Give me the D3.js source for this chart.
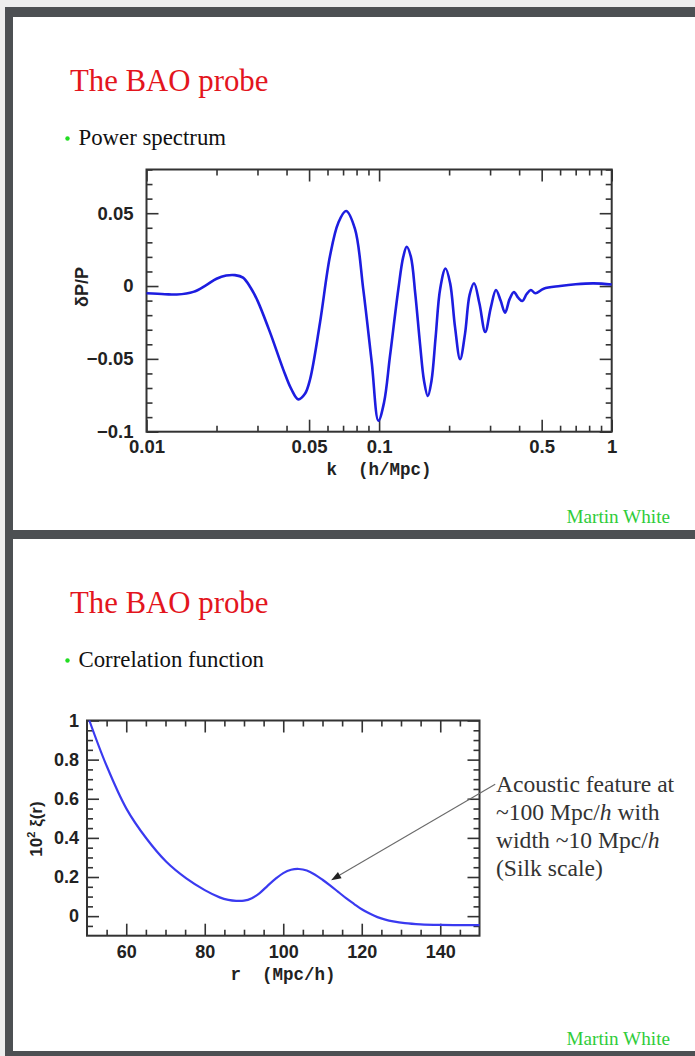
<!DOCTYPE html>
<html>
<head>
<meta charset="utf-8">
<script src="https://cdn.jsdelivr.net/npm/d3@7"></script>
<style>
  html, body { margin: 0; padding: 0; background: #eeeeee; }
  svg { display: block; }
</style>
</head>
<body>
<script>
// ---------- DATA ----------
// Power spectrum: k (h/Mpc) and deltaP/P
const kValues = [0.0100, 0.0120, 0.0135, 0.0159, 0.0180, 0.0200, 0.0220, 0.0240, 0.0260, 0.0280,
  0.0300, 0.0340, 0.0387, 0.0420, 0.0449, 0.0480, 0.0505, 0.0557, 0.0615, 0.0668,
  0.0721, 0.0788, 0.0855, 0.0930, 0.0993, 0.1050, 0.1114, 0.1210, 0.1270, 0.1315,
  0.1370, 0.1430, 0.1500, 0.1560, 0.1620, 0.1680, 0.1750, 0.1830, 0.1930, 0.2020,
  0.2120, 0.2230, 0.2340, 0.2450, 0.2560, 0.2700, 0.2860, 0.3020, 0.3180, 0.3330,
  0.3480, 0.3640, 0.3800, 0.3960, 0.4130, 0.4310, 0.4490, 0.4700, 0.5100, 0.6000,
  0.7000, 0.8340, 1.0000];
const dPoverP = [-0.0050, -0.0056, -0.0058, -0.0040, 0.0005, 0.0050, 0.0072, 0.0075, 0.0058, -0.0010,
  -0.0100, -0.0320, -0.0572, -0.0710, -0.0778, -0.0740, -0.0640, -0.0252, 0.0206, 0.0435,
  0.0515, 0.0390, -0.0023, -0.0526, -0.0925, -0.0800, -0.0480, -0.0020, 0.0200, 0.0270,
  0.0200, -0.0050, -0.0400, -0.0650, -0.0755, -0.0650, -0.0350, -0.0020, 0.0120, 0.0020,
  -0.0280, -0.0503, -0.0330, -0.0060, 0.0019, -0.0120, -0.0316, -0.0150, -0.0027, -0.0100,
  -0.0183, -0.0090, -0.0041, -0.0080, -0.0103, -0.0055, -0.0027, -0.0050, -0.0018, 0.0000,
  0.0012, 0.0018, 0.0010];

// Correlation function: r (Mpc/h) and 10^2 xi(r)
const rValues = [50.6, 54.9, 60, 65.1, 70.2, 75.3, 80, 83.8, 86, 88,
  90, 92, 94, 96, 98, 100, 102, 104, 106, 108,
  110, 112, 114, 116, 118, 120, 122, 124, 126, 128,
  131, 135, 140, 145, 150];
const xiValues = [1.00, 0.773, 0.551, 0.398, 0.278, 0.193, 0.133, 0.096, 0.083, 0.078,
  0.079, 0.092, 0.118, 0.155, 0.190, 0.220, 0.237, 0.241, 0.233, 0.213,
  0.186, 0.156, 0.124, 0.092, 0.063, 0.035, 0.013, -0.005, -0.018, -0.027,
  -0.036, -0.042, -0.045, -0.046, -0.046];

// Ticks
const kMajorTicks = [0.01, 0.05, 0.1, 0.5, 1];
const kTickLabels = ["0.01", "0.05", "0.1", "0.5", "1"];
const kMinorTicks = [0.02, 0.03, 0.04, 0.06, 0.07, 0.08, 0.09, 0.2, 0.3, 0.4, 0.6, 0.7, 0.8, 0.9];
const pMajorTicks = [-0.1, -0.05, 0, 0.05];
const pTickLabels = ["\u22120.1", "\u22120.05", "0", "0.05"];
const pMinorTicks = [-0.09, -0.08, -0.07, -0.06, -0.04, -0.03, -0.02, -0.01, 0.01, 0.02, 0.03, 0.04, 0.06, 0.07, 0.08];

const rMajorTicks = [60, 80, 100, 120, 140];
const rTickLabels = ["60", "80", "100", "120", "140"];
const rMinorTicks = [55, 65, 70, 75, 85, 90, 95, 105, 110, 115, 125, 130, 135, 145];
const xiMajorTicks = [0, 0.2, 0.4, 0.6, 0.8, 1];
const xiTickLabels = ["0", "0.2", "0.4", "0.6", "0.8", "1"];
const xiMinorTicks = [-0.05, 0.05, 0.1, 0.15, 0.25, 0.3, 0.35, 0.45, 0.5, 0.55, 0.65, 0.7, 0.75, 0.85, 0.9, 0.95];

// Texts
const slideTitle = "The BAO probe";
const bullet1 = "Power spectrum";
const bullet2 = "Correlation function";
const author = "Martin White";
const annotationLines = ["Acoustic feature at", "~100 Mpc/|h| with", "width ~10 Mpc/|h|", "(Silk scale)"];

// ---------- DRAW ----------
const W = 695, H = 1056;
const svg = d3.select("body").append("svg").attr("width", W).attr("height", H);

const DARK = "#4d5053";
svg.append("rect").attr("x", 0).attr("y", 0).attr("width", W).attr("height", H).attr("fill", "#eeeeee");
svg.append("rect").attr("x", 5).attr("y", 7).attr("width", W - 5).attr("height", H - 7).attr("fill", DARK);
svg.append("rect").attr("x", 13).attr("y", 17).attr("width", W - 13).attr("height", 513).attr("fill", "#ffffff");
svg.append("rect").attr("x", 13).attr("y", 539).attr("width", W - 13).attr("height", 512).attr("fill", "#ffffff");

const SERIF = "'Liberation Serif', 'Times New Roman', serif";
const SANS = "'Liberation Sans', Arial, Helvetica, sans-serif";
const MONO = "'Liberation Mono', 'Courier New', monospace";

function slideText(offsetY, bulletText) {
  svg.append("text").attr("x", 70).attr("y", 91 + offsetY)
    .attr("font-family", SERIF).attr("font-size", 30.8).attr("fill", "#e3151d").text(slideTitle);
  svg.append("circle").attr("cx", 67.5).attr("cy", 138.5 + offsetY).attr("r", 2.2).attr("fill", "#22dd22");
  svg.append("text").attr("x", 78.5).attr("y", 144.5 + offsetY)
    .attr("font-family", SERIF).attr("font-size", 22.8).attr("fill", "#111").text(bulletText);
  svg.append("text").attr("x", 670).attr("y", 523 + offsetY).attr("text-anchor", "end")
    .attr("font-family", SERIF).attr("font-size", 19.2).attr("fill", "#2fcc3a").text(author);
}
slideText(0, bullet1);
slideText(522, bullet2);

function drawAxes(x, y, o) {
  const [x0, x1] = x.range();
  const [y0, y1] = y.range();
  const g = svg.append("g");
  const add = (axis, tr, vals, size, fmt, pad, font) => {
    const a = g.append("g").attr("transform", tr)
      .call(axis.tickValues(vals).tickSize(-size).tickPadding(pad).tickFormat(fmt));
    a.select(".domain").remove();
    a.selectAll(".tick line").attr("stroke", "#333").attr("stroke-width", 1.6);
    a.selectAll(".tick text").attr("font-family", SANS).attr("font-weight", "bold")
      .attr("font-size", font).attr("fill", "#222");
    return a;
  };
  const none = () => "";
  add(d3.axisBottom(x), `translate(0,${y0})`, o.xMajor, 12, (d, i) => o.xLabels[i], o.xPad, o.font);
  add(d3.axisBottom(x), `translate(0,${y0})`, o.xMinor, 6, none, 0, o.font);
  add(d3.axisTop(x), `translate(0,${y1})`, o.xMajor, 12, none, 0, o.font);
  add(d3.axisTop(x), `translate(0,${y1})`, o.xMinor, 6, none, 0, o.font);
  add(d3.axisLeft(y), `translate(${x0},0)`, o.yMajor, 12, (d, i) => o.yLabels[i], o.yPad, o.font);
  add(d3.axisLeft(y), `translate(${x0},0)`, o.yMinor, 6, none, 0, o.font);
  add(d3.axisRight(y), `translate(${x1},0)`, o.yMajor, 12, none, 0, o.font);
  add(d3.axisRight(y), `translate(${x1},0)`, o.yMinor, 6, none, 0, o.font);
  g.append("rect").attr("x", x0).attr("y", y1).attr("width", x1 - x0).attr("height", y0 - y1)
    .attr("fill", "none").attr("stroke", "#333").attr("stroke-width", 2);
}

// ---- Plot 1: power spectrum ----
const x1s = d3.scaleLog().domain([0.01, 1]).range([146.5, 611.7]);
const y1s = d3.scaleLinear().domain([-0.1, 0.08]).range([431.7, 169.5]);
drawAxes(x1s, y1s, {
  xMajor: kMajorTicks, xLabels: kTickLabels, xMinor: kMinorTicks, xPad: 8,
  yMajor: pMajorTicks, yLabels: pTickLabels, yMinor: pMinorTicks, yPad: 13, font: 18.5
});
const line1 = d3.line().x(d => x1s(d[0])).y(d => y1s(d[1])).curve(d3.curveCatmullRom.alpha(0.5));
svg.append("path").datum(d3.zip(kValues, dPoverP)).attr("d", line1)
  .attr("fill", "none").attr("stroke", "#1d1de0").attr("stroke-width", 2.6).attr("stroke-linejoin", "round");

svg.append("text").attr("x", 379).attr("y", 475).attr("text-anchor", "middle")
  .attr("font-family", MONO).attr("font-weight", "bold").attr("font-size", 17.5).attr("fill", "#222")
  .attr("xml:space", "preserve").text("k  (h/Mpc)");
svg.append("text").attr("transform", "translate(88,287) rotate(-90)").attr("text-anchor", "middle")
  .attr("font-family", SANS).attr("font-weight", "bold").attr("font-size", 18).attr("fill", "#222")
  .text("\u03B4P/P");

// ---- Plot 2: correlation function ----
const x2s = d3.scaleLinear().domain([50, 150]).range([87, 479.5]);
const y2s = d3.scaleLinear().domain([-0.1, 1]).range([935.7, 720.5]);
drawAxes(x2s, y2s, {
  xMajor: rMajorTicks, xLabels: rTickLabels, xMinor: rMinorTicks, xPad: 10,
  yMajor: xiMajorTicks, yLabels: xiTickLabels, yMinor: xiMinorTicks, yPad: 8, font: 18
});
const line2 = d3.line().x(d => x2s(d[0])).y(d => y2s(d[1])).curve(d3.curveCatmullRom.alpha(0.5));
svg.append("path").datum(d3.zip(rValues, xiValues)).attr("d", line2)
  .attr("fill", "none").attr("stroke", "#3a3af0").attr("stroke-width", 2.2);

svg.append("text").attr("x", 283).attr("y", 980).attr("text-anchor", "middle")
  .attr("font-family", MONO).attr("font-weight", "bold").attr("font-size", 17.5).attr("fill", "#222")
  .attr("xml:space", "preserve").text("r  (Mpc/h)");
const yl2 = svg.append("text").attr("transform", "translate(42,829) rotate(-90)").attr("text-anchor", "middle")
  .attr("font-family", SANS).attr("font-weight", "bold").attr("font-size", 17).attr("fill", "#222");
yl2.append("tspan").text("10");
yl2.append("tspan").attr("font-size", 11).attr("dy", -7).text("2");
yl2.append("tspan").attr("dy", 7).text(" \u03BE(r)");

// Annotation arrow (data coordinates)
const arrowFrom = [154, 0.674], arrowTo = [112.2, 0.184];
const ax0 = x2s(arrowFrom[0]), ay0 = y2s(arrowFrom[1]);
const ax1 = x2s(arrowTo[0]), ay1 = y2s(arrowTo[1]);
const ang = Math.atan2(ay1 - ay0, ax1 - ax0);
const hl = 10, hw = 3.6;
const bx = ax1 - hl * Math.cos(ang), by = ay1 - hl * Math.sin(ang);
svg.append("line").attr("x1", ax0).attr("y1", ay0).attr("x2", bx).attr("y2", by)
  .attr("stroke", "#6a6a6a").attr("stroke-width", 1.1);
svg.append("path")
  .attr("d", `M${ax1},${ay1}L${bx + hw * Math.sin(ang)},${by - hw * Math.cos(ang)}L${bx - hw * Math.sin(ang)},${by + hw * Math.cos(ang)}Z`)
  .attr("fill", "#222");

const ann = svg.append("g").attr("font-family", SERIF).attr("font-size", 23.6).attr("fill", "#333");
annotationLines.forEach((ln, i) => {
  const t = ann.append("text").attr("x", 496).attr("y", 791.5 + i * 28.2);
  ln.split("|").forEach((part, j) => {
    const s = t.append("tspan").text(part);
    if (j % 2 === 1) s.attr("font-style", "italic");
  });
});
</script>
</body>
</html>
